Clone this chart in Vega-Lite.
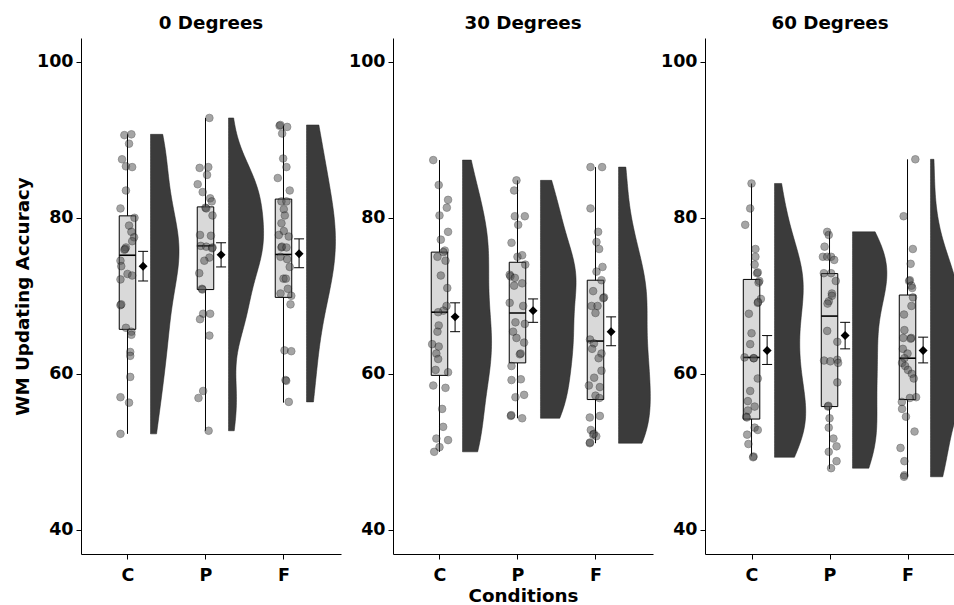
{
"$schema": "https://vega.github.io/schema/vega-lite/v6.json",
"padding": {"left": 13, "top": 13, "right": 0, "bottom": 0},
"datasets": {
"summ": [
{"panel":"0","cond":"C","lo":52.3,"q1":65.7,"med":75.2,"q3":80.25,"hi":90.7,"mean":73.8,"selo":71.9,"sehi":75.7},
{"panel":"0","cond":"P","lo":52.7,"q1":70.8,"med":76.4,"q3":81.4,"hi":92.8,"mean":75.25,"selo":73.7,"sehi":76.8},
{"panel":"0","cond":"F","lo":56.3,"q1":69.8,"med":75.3,"q3":82.4,"hi":91.8,"mean":75.4,"selo":73.6,"sehi":77.3},
{"panel":"30","cond":"C","lo":50.0,"q1":59.8,"med":67.9,"q3":75.6,"hi":87.4,"mean":67.3,"selo":65.4,"sehi":69.1},
{"panel":"30","cond":"P","lo":54.3,"q1":61.4,"med":67.8,"q3":74.3,"hi":84.8,"mean":68.1,"selo":66.6,"sehi":69.6},
{"panel":"30","cond":"F","lo":51.1,"q1":56.7,"med":64.2,"q3":72.0,"hi":86.5,"mean":65.4,"selo":63.6,"sehi":67.3},
{"panel":"60","cond":"C","lo":49.4,"q1":54.2,"med":62.1,"q3":72.1,"hi":84.4,"mean":63.0,"selo":61.2,"sehi":64.9},
{"panel":"60","cond":"P","lo":47.8,"q1":55.8,"med":67.4,"q3":72.85,"hi":78.2,"mean":64.9,"selo":63.2,"sehi":66.6},
{"panel":"60","cond":"F","lo":46.8,"q1":56.7,"med":62.0,"q3":70.1,"hi":87.5,"mean":63.0,"selo":61.4,"sehi":64.7}
],
"pts": [
{"panel":"0","cond":"C","acc":90.6,"jit":-0.04},{"panel":"0","cond":"C","acc":90.7,"jit":0.05},{"panel":"0","cond":"C","acc":89.5,"jit":0.02},{"panel":"0","cond":"C","acc":87.5,"jit":-0.07},{"panel":"0","cond":"C","acc":86.6,"jit":-0.02},{"panel":"0","cond":"C","acc":86.5,"jit":0.06},{"panel":"0","cond":"C","acc":83.5,"jit":-0.02},{"panel":"0","cond":"C","acc":81.2,"jit":-0.09},{"panel":"0","cond":"C","acc":80.0,"jit":0.09},{"panel":"0","cond":"C","acc":79.0,"jit":0.02},{"panel":"0","cond":"C","acc":78.2,"jit":0.05},{"panel":"0","cond":"C","acc":77.5,"jit":0.085},{"panel":"0","cond":"C","acc":77.0,"jit":0.06},{"panel":"0","cond":"C","acc":76.2,"jit":-0.02},{"panel":"0","cond":"C","acc":75.9,"jit":-0.04},{"panel":"0","cond":"C","acc":76.0,"jit":-0.03},{"panel":"0","cond":"C","acc":74.5,"jit":-0.09},{"panel":"0","cond":"C","acc":73.8,"jit":-0.08},{"panel":"0","cond":"C","acc":72.8,"jit":0.0},{"panel":"0","cond":"C","acc":72.6,"jit":0.06},{"panel":"0","cond":"C","acc":72.1,"jit":-0.09},{"panel":"0","cond":"C","acc":68.8,"jit":-0.09},{"panel":"0","cond":"C","acc":68.9,"jit":-0.08},{"panel":"0","cond":"C","acc":65.9,"jit":-0.02},{"panel":"0","cond":"C","acc":65.4,"jit":0.05},{"panel":"0","cond":"C","acc":65.0,"jit":0.05},{"panel":"0","cond":"C","acc":62.8,"jit":0.035},{"panel":"0","cond":"C","acc":62.3,"jit":0.035},{"panel":"0","cond":"C","acc":59.6,"jit":0.035},{"panel":"0","cond":"C","acc":57.0,"jit":-0.09},{"panel":"0","cond":"C","acc":56.3,"jit":0.02},{"panel":"0","cond":"C","acc":52.3,"jit":-0.09},
{"panel":"0","cond":"P","acc":92.8,"jit":0.05},{"panel":"0","cond":"P","acc":86.4,"jit":-0.075},{"panel":"0","cond":"P","acc":86.5,"jit":0.036},{"panel":"0","cond":"P","acc":85.5,"jit":0.02},{"panel":"0","cond":"P","acc":84.3,"jit":-0.1},{"panel":"0","cond":"P","acc":83.3,"jit":-0.036},{"panel":"0","cond":"P","acc":82.5,"jit":0.06},{"panel":"0","cond":"P","acc":82.1,"jit":0.08},{"panel":"0","cond":"P","acc":81.3,"jit":0.0},{"panel":"0","cond":"P","acc":81.2,"jit":0.01},{"panel":"0","cond":"P","acc":80.3,"jit":0.09},{"panel":"0","cond":"P","acc":77.8,"jit":-0.07},{"panel":"0","cond":"P","acc":77.7,"jit":0.07},{"panel":"0","cond":"P","acc":76.4,"jit":-0.06},{"panel":"0","cond":"P","acc":76.3,"jit":0.01},{"panel":"0","cond":"P","acc":76.2,"jit":0.09},{"panel":"0","cond":"P","acc":76.1,"jit":0.085},{"panel":"0","cond":"P","acc":74.9,"jit":0.05},{"panel":"0","cond":"P","acc":74.5,"jit":-0.015},{"panel":"0","cond":"P","acc":72.9,"jit":-0.08},{"panel":"0","cond":"P","acc":70.9,"jit":-0.045},{"panel":"0","cond":"P","acc":70.8,"jit":-0.04},{"panel":"0","cond":"P","acc":67.7,"jit":-0.03},{"panel":"0","cond":"P","acc":67.7,"jit":0.06},{"panel":"0","cond":"P","acc":67.0,"jit":-0.07},{"panel":"0","cond":"P","acc":64.9,"jit":0.05},{"panel":"0","cond":"P","acc":57.8,"jit":-0.03},{"panel":"0","cond":"P","acc":56.9,"jit":-0.09},{"panel":"0","cond":"P","acc":52.7,"jit":0.04},
{"panel":"0","cond":"F","acc":91.8,"jit":-0.05},{"panel":"0","cond":"F","acc":91.9,"jit":-0.04},{"panel":"0","cond":"F","acc":91.65,"jit":0.047},{"panel":"0","cond":"F","acc":90.8,"jit":-0.017},{"panel":"0","cond":"F","acc":87.6,"jit":-0.004},{"panel":"0","cond":"F","acc":86.5,"jit":0.038},{"panel":"0","cond":"F","acc":85.1,"jit":-0.073},{"panel":"0","cond":"F","acc":83.5,"jit":0.08},{"panel":"0","cond":"F","acc":82.1,"jit":-0.026},{"panel":"0","cond":"F","acc":82.1,"jit":0.038},{"panel":"0","cond":"F","acc":81.1,"jit":0.004},{"panel":"0","cond":"F","acc":80.3,"jit":0.017},{"panel":"0","cond":"F","acc":79.3,"jit":-0.026},{"panel":"0","cond":"F","acc":78.3,"jit":0.004},{"panel":"0","cond":"F","acc":77.8,"jit":-0.06},{"panel":"0","cond":"F","acc":77.6,"jit":0.068},{"panel":"0","cond":"F","acc":76.2,"jit":-0.026},{"panel":"0","cond":"F","acc":76.3,"jit":-0.02},{"panel":"0","cond":"F","acc":76.2,"jit":0.038},{"panel":"0","cond":"F","acc":75.0,"jit":-0.038},{"panel":"0","cond":"F","acc":74.7,"jit":0.047},{"panel":"0","cond":"F","acc":73.7,"jit":0.08},{"panel":"0","cond":"F","acc":72.2,"jit":0.0},{"panel":"0","cond":"F","acc":72.2,"jit":0.03},{"panel":"0","cond":"F","acc":70.9,"jit":0.056},{"panel":"0","cond":"F","acc":70.3,"jit":-0.038},{"panel":"0","cond":"F","acc":70.0,"jit":0.1},{"panel":"0","cond":"F","acc":68.9,"jit":0.09},{"panel":"0","cond":"F","acc":63.0,"jit":0.013},{"panel":"0","cond":"F","acc":62.9,"jit":0.1},{"panel":"0","cond":"F","acc":59.2,"jit":0.026},{"panel":"0","cond":"F","acc":59.1,"jit":0.035},{"panel":"0","cond":"F","acc":56.4,"jit":0.068},
{"panel":"30","cond":"C","acc":87.4,"jit":-0.08},{"panel":"30","cond":"C","acc":84.2,"jit":-0.01},{"panel":"30","cond":"C","acc":82.3,"jit":0.11},{"panel":"30","cond":"C","acc":81.3,"jit":0.094},{"panel":"30","cond":"C","acc":80.3,"jit":0.0},{"panel":"30","cond":"C","acc":78.2,"jit":0.11},{"panel":"30","cond":"C","acc":77.2,"jit":0.017},{"panel":"30","cond":"C","acc":75.8,"jit":0.068},{"panel":"30","cond":"C","acc":75.6,"jit":0.05},{"panel":"30","cond":"C","acc":75.0,"jit":-0.026},{"panel":"30","cond":"C","acc":74.5,"jit":0.077},{"panel":"30","cond":"C","acc":72.6,"jit":0.017},{"panel":"30","cond":"C","acc":71.0,"jit":0.1},{"panel":"30","cond":"C","acc":68.7,"jit":0.09},{"panel":"30","cond":"C","acc":68.1,"jit":0.05},{"panel":"30","cond":"C","acc":67.9,"jit":-0.017},{"panel":"30","cond":"C","acc":66.2,"jit":-0.01},{"panel":"30","cond":"C","acc":65.4,"jit":-0.026},{"panel":"30","cond":"C","acc":63.8,"jit":-0.094},{"panel":"30","cond":"C","acc":63.5,"jit":-0.01},{"panel":"30","cond":"C","acc":62.6,"jit":-0.04},{"panel":"30","cond":"C","acc":61.9,"jit":-0.017},{"panel":"30","cond":"C","acc":60.5,"jit":-0.05},{"panel":"30","cond":"C","acc":60.2,"jit":0.11},{"panel":"30","cond":"C","acc":58.5,"jit":-0.08},{"panel":"30","cond":"C","acc":58.2,"jit":0.077},{"panel":"30","cond":"C","acc":55.5,"jit":0.034},{"panel":"30","cond":"C","acc":53.2,"jit":0.047},{"panel":"30","cond":"C","acc":51.7,"jit":-0.04},{"panel":"30","cond":"C","acc":51.5,"jit":0.11},{"panel":"30","cond":"C","acc":50.6,"jit":0.0},{"panel":"30","cond":"C","acc":50.0,"jit":-0.068},
{"panel":"30","cond":"P","acc":84.8,"jit":-0.013},{"panel":"30","cond":"P","acc":83.5,"jit":-0.043},{"panel":"30","cond":"P","acc":80.2,"jit":-0.034},{"panel":"30","cond":"P","acc":80.2,"jit":0.094},{"panel":"30","cond":"P","acc":79.1,"jit":0.009},{"panel":"30","cond":"P","acc":76.8,"jit":-0.077},{"panel":"30","cond":"P","acc":75.0,"jit":0.0},{"panel":"30","cond":"P","acc":75.2,"jit":0.06},{"panel":"30","cond":"P","acc":74.0,"jit":0.1},{"panel":"30","cond":"P","acc":72.7,"jit":-0.1},{"panel":"30","cond":"P","acc":72.5,"jit":-0.09},{"panel":"30","cond":"P","acc":72.3,"jit":-0.034},{"panel":"30","cond":"P","acc":71.6,"jit":0.06},{"panel":"30","cond":"P","acc":71.3,"jit":-0.043},{"panel":"30","cond":"P","acc":69.1,"jit":-0.1},{"panel":"30","cond":"P","acc":68.7,"jit":0.073},{"panel":"30","cond":"P","acc":66.6,"jit":-0.026},{"panel":"30","cond":"P","acc":66.4,"jit":0.094},{"panel":"30","cond":"P","acc":65.4,"jit":-0.056},{"panel":"30","cond":"P","acc":64.6,"jit":-0.013},{"panel":"30","cond":"P","acc":64.0,"jit":0.085},{"panel":"30","cond":"P","acc":62.5,"jit":0.03},{"panel":"30","cond":"P","acc":62.6,"jit":0.04},{"panel":"30","cond":"P","acc":61.0,"jit":-0.077},{"panel":"30","cond":"P","acc":59.3,"jit":0.043},{"panel":"30","cond":"P","acc":59.2,"jit":-0.077},{"panel":"30","cond":"P","acc":57.0,"jit":-0.026},{"panel":"30","cond":"P","acc":57.3,"jit":0.085},{"panel":"30","cond":"P","acc":54.6,"jit":-0.085},{"panel":"30","cond":"P","acc":54.7,"jit":-0.08},{"panel":"30","cond":"P","acc":54.3,"jit":0.06},
{"panel":"30","cond":"F","acc":86.5,"jit":-0.064},{"panel":"30","cond":"F","acc":86.5,"jit":0.085},{"panel":"30","cond":"F","acc":81.2,"jit":-0.064},{"panel":"30","cond":"F","acc":78.2,"jit":0.034},{"panel":"30","cond":"F","acc":76.9,"jit":0.013},{"panel":"30","cond":"F","acc":76.0,"jit":0.047},{"panel":"30","cond":"F","acc":73.7,"jit":0.09},{"panel":"30","cond":"F","acc":73.1,"jit":0.013},{"panel":"30","cond":"F","acc":72.0,"jit":0.077},{"panel":"30","cond":"F","acc":70.6,"jit":-0.03},{"panel":"30","cond":"F","acc":69.8,"jit":0.11},{"panel":"30","cond":"F","acc":69.7,"jit":0.1},{"panel":"30","cond":"F","acc":68.7,"jit":-0.05},{"panel":"30","cond":"F","acc":68.7,"jit":0.026},{"panel":"30","cond":"F","acc":67.8,"jit":0.0},{"panel":"30","cond":"F","acc":64.4,"jit":-0.07},{"panel":"30","cond":"F","acc":63.9,"jit":-0.02},{"panel":"30","cond":"F","acc":63.2,"jit":-0.043},{"panel":"30","cond":"F","acc":62.6,"jit":0.077},{"panel":"30","cond":"F","acc":62.0,"jit":0.04},{"panel":"30","cond":"F","acc":60.4,"jit":0.077},{"panel":"30","cond":"F","acc":59.5,"jit":-0.017},{"panel":"30","cond":"F","acc":58.5,"jit":-0.085},{"panel":"30","cond":"F","acc":58.3,"jit":0.056},{"panel":"30","cond":"F","acc":57.2,"jit":0.0},{"panel":"30","cond":"F","acc":56.9,"jit":0.05},{"panel":"30","cond":"F","acc":54.4,"jit":-0.073},{"panel":"30","cond":"F","acc":54.6,"jit":0.056},{"panel":"30","cond":"F","acc":52.8,"jit":-0.06},{"panel":"30","cond":"F","acc":52.2,"jit":-0.03},{"panel":"30","cond":"F","acc":52.3,"jit":-0.02},{"panel":"30","cond":"F","acc":52.0,"jit":0.01},{"panel":"30","cond":"F","acc":51.1,"jit":-0.073},{"panel":"30","cond":"F","acc":51.2,"jit":-0.07},
{"panel":"60","cond":"C","acc":84.4,"jit":0.0},{"panel":"60","cond":"C","acc":81.2,"jit":-0.017},{"panel":"60","cond":"C","acc":79.1,"jit":-0.081},{"panel":"60","cond":"C","acc":76.0,"jit":0.05},{"panel":"60","cond":"C","acc":75.0,"jit":0.05},{"panel":"60","cond":"C","acc":74.0,"jit":0.04},{"panel":"60","cond":"C","acc":72.9,"jit":0.07},{"panel":"60","cond":"C","acc":73.0,"jit":0.08},{"panel":"60","cond":"C","acc":71.9,"jit":0.1},{"panel":"60","cond":"C","acc":71.7,"jit":0.09},{"panel":"60","cond":"C","acc":69.6,"jit":0.12},{"panel":"60","cond":"C","acc":69.1,"jit":0.08},{"panel":"60","cond":"C","acc":69.2,"jit":0.085},{"panel":"60","cond":"C","acc":67.7,"jit":-0.034},{"panel":"60","cond":"C","acc":65.2,"jit":0.0},{"panel":"60","cond":"C","acc":63.8,"jit":-0.017},{"panel":"60","cond":"C","acc":62.1,"jit":-0.09},{"panel":"60","cond":"C","acc":62.0,"jit":0.026},{"panel":"60","cond":"C","acc":62.0,"jit":0.03},{"panel":"60","cond":"C","acc":59.4,"jit":0.08},{"panel":"60","cond":"C","acc":57.8,"jit":-0.017},{"panel":"60","cond":"C","acc":56.5,"jit":-0.047},{"panel":"60","cond":"C","acc":55.8,"jit":0.04},{"panel":"60","cond":"C","acc":55.3,"jit":-0.047},{"panel":"60","cond":"C","acc":54.5,"jit":-0.068},{"panel":"60","cond":"C","acc":54.4,"jit":-0.06},{"panel":"60","cond":"C","acc":53.1,"jit":0.04},{"panel":"60","cond":"C","acc":52.8,"jit":0.08},{"panel":"60","cond":"C","acc":52.2,"jit":-0.056},{"panel":"60","cond":"C","acc":51.0,"jit":-0.04},{"panel":"60","cond":"C","acc":49.4,"jit":0.026},{"panel":"60","cond":"C","acc":49.3,"jit":0.02},
{"panel":"60","cond":"P","acc":78.2,"jit":-0.03},{"panel":"60","cond":"P","acc":77.8,"jit":-0.01},{"panel":"60","cond":"P","acc":76.3,"jit":-0.064},{"panel":"60","cond":"P","acc":75.0,"jit":-0.085},{"panel":"60","cond":"P","acc":75.0,"jit":-0.03},{"panel":"60","cond":"P","acc":75.0,"jit":0.02},{"panel":"60","cond":"P","acc":74.6,"jit":0.06},{"panel":"60","cond":"P","acc":72.9,"jit":-0.073},{"panel":"60","cond":"P","acc":72.9,"jit":0.02},{"panel":"60","cond":"P","acc":71.9,"jit":0.08},{"panel":"60","cond":"P","acc":70.3,"jit":0.03},{"panel":"60","cond":"P","acc":70.0,"jit":0.03},{"panel":"60","cond":"P","acc":69.3,"jit":-0.01},{"panel":"60","cond":"P","acc":69.0,"jit":-0.025},{"panel":"60","cond":"P","acc":65.5,"jit":-0.03},{"panel":"60","cond":"P","acc":64.1,"jit":0.1},{"panel":"60","cond":"P","acc":61.7,"jit":-0.07},{"panel":"60","cond":"P","acc":61.6,"jit":0.01},{"panel":"60","cond":"P","acc":61.8,"jit":0.1},{"panel":"60","cond":"P","acc":61.4,"jit":0.11},{"panel":"60","cond":"P","acc":58.9,"jit":0.1},{"panel":"60","cond":"P","acc":55.8,"jit":-0.02},{"panel":"60","cond":"P","acc":55.9,"jit":-0.015},{"panel":"60","cond":"P","acc":54.3,"jit":0.0},{"panel":"60","cond":"P","acc":53.1,"jit":-0.01},{"panel":"60","cond":"P","acc":51.7,"jit":0.05},{"panel":"60","cond":"P","acc":50.7,"jit":0.09},{"panel":"60","cond":"P","acc":50.0,"jit":-0.01},{"panel":"60","cond":"P","acc":48.8,"jit":0.09},{"panel":"60","cond":"P","acc":47.9,"jit":0.02},
{"panel":"60","cond":"F","acc":87.5,"jit":0.1},{"panel":"60","cond":"F","acc":80.2,"jit":-0.05},{"panel":"60","cond":"F","acc":76.0,"jit":0.068},{"panel":"60","cond":"F","acc":74.1,"jit":0.04},{"panel":"60","cond":"F","acc":71.9,"jit":0.02},{"panel":"60","cond":"F","acc":72.0,"jit":0.03},{"panel":"60","cond":"F","acc":71.3,"jit":0.05},{"panel":"60","cond":"F","acc":71.0,"jit":0.06},{"panel":"60","cond":"F","acc":69.8,"jit":0.07},{"panel":"60","cond":"F","acc":68.7,"jit":0.05},{"panel":"60","cond":"F","acc":67.6,"jit":-0.045},{"panel":"60","cond":"F","acc":65.6,"jit":-0.04},{"panel":"60","cond":"F","acc":64.6,"jit":0.047},{"panel":"60","cond":"F","acc":64.5,"jit":0.04},{"panel":"60","cond":"F","acc":64.6,"jit":-0.055},{"panel":"60","cond":"F","acc":63.2,"jit":-0.06},{"panel":"60","cond":"F","acc":62.6,"jit":0.0},{"panel":"60","cond":"F","acc":62.0,"jit":-0.04},{"panel":"60","cond":"F","acc":61.4,"jit":-0.07},{"panel":"60","cond":"F","acc":61.0,"jit":-0.03},{"panel":"60","cond":"F","acc":60.5,"jit":0.005},{"panel":"60","cond":"F","acc":60.0,"jit":0.055},{"panel":"60","cond":"F","acc":59.4,"jit":0.08},{"panel":"60","cond":"F","acc":57.0,"jit":0.11},{"panel":"60","cond":"F","acc":56.9,"jit":0.03},{"panel":"60","cond":"F","acc":56.4,"jit":-0.073},{"panel":"60","cond":"F","acc":55.5,"jit":-0.07},{"panel":"60","cond":"F","acc":54.5,"jit":-0.02},{"panel":"60","cond":"F","acc":52.6,"jit":0.09},{"panel":"60","cond":"F","acc":50.5,"jit":-0.09},{"panel":"60","cond":"F","acc":48.8,"jit":-0.04},{"panel":"60","cond":"F","acc":47.0,"jit":-0.04},{"panel":"60","cond":"F","acc":46.8,"jit":-0.045}
]
},
"spacing": 52,
"bounds": "flush",
"hconcat": [
{
"width": 260, "height": 516,
"title": {"text": "0 Degrees"},
"layer": [
{"data": {"name": "summ"}, "transform": [{"filter": "datum.panel === '0'"}],
 "mark": {"type": "rule", "color": "#000", "strokeWidth": 1},
 "encoding": {
  "x": {"field": "cond", "type": "nominal", "scale": {"type": "point", "domain": ["C","P","F"], "padding": 0.6667, "align": 0.447}, "axis": {"title": null, "labelAngle": 0}},
  "y": {"field": "lo", "type": "quantitative", "scale": {"domain": [36.9, 103.05], "nice": false, "zero": false}, "axis": {"title": "WM Updating Accuracy", "values": [40, 60, 80, 100]}},
  "y2": {"field": "hi"}}},
{"data": {"name": "summ"}, "transform": [{"filter": "datum.panel === '0'"}],
 "mark": {"type": "bar", "width": 16.5, "fill": "#d9d9d9", "stroke": "#000", "strokeWidth": 1},
 "encoding": {
  "x": {"field": "cond", "type": "nominal", "scale": {"type": "point", "domain": ["C","P","F"], "padding": 0.6667, "align": 0.447}, "axis": null},
  "y": {"field": "q1", "type": "quantitative", "scale": {"domain": [36.9, 103.05], "nice": false, "zero": false}},
  "y2": {"field": "q3"}}},
{"data": {"name": "summ"}, "transform": [{"filter": "datum.panel === '0'"}],
 "mark": {"type": "tick", "orient": "horizontal", "size": 16.5, "thickness": 1.6, "color": "#000", "opacity": 1},
 "encoding": {
  "x": {"field": "cond", "type": "nominal", "scale": {"type": "point", "domain": ["C","P","F"], "padding": 0.6667, "align": 0.447}, "axis": null},
  "y": {"field": "med", "type": "quantitative", "scale": {"domain": [36.9, 103.05], "nice": false, "zero": false}}}},
{"data": {"name": "pts"}, "transform": [{"filter": "datum.panel === '0'"}],
 "mark": {"type": "circle", "size": 58, "color": "#4d4d4d", "opacity": 0.5, "stroke": "#000", "strokeWidth": 0.7},
 "encoding": {
  "x": {"field": "cond", "type": "nominal", "scale": {"type": "point", "domain": ["C","P","F"], "padding": 0.6667, "align": 0.447}, "axis": null},
  "xOffset": {"field": "jit", "type": "quantitative", "scale": {"domain": [-0.5, 0.5], "range": [-39, 39]}},
  "y": {"field": "acc", "type": "quantitative", "scale": {"domain": [36.9, 103.05], "nice": false, "zero": false}}}},
{"data": {"name": "summ"}, "transform": [{"filter": "datum.panel === '0'"}],
 "mark": {"type": "rule", "color": "#000", "strokeWidth": 1, "xOffset": 15.6},
 "encoding": {
  "x": {"field": "cond", "type": "nominal", "scale": {"type": "point", "domain": ["C","P","F"], "padding": 0.6667, "align": 0.447}, "axis": null},
  "y": {"field": "selo", "type": "quantitative", "scale": {"domain": [36.9, 103.05], "nice": false, "zero": false}},
  "y2": {"field": "sehi"}}},
{"data": {"name": "summ"}, "transform": [{"filter": "datum.panel === '0'"}],
 "mark": {"type": "tick", "orient": "horizontal", "size": 10, "thickness": 1, "color": "#000", "opacity": 1, "xOffset": 15.6},
 "encoding": {
  "x": {"field": "cond", "type": "nominal", "scale": {"type": "point", "domain": ["C","P","F"], "padding": 0.6667, "align": 0.447}, "axis": null},
  "y": {"field": "selo", "type": "quantitative", "scale": {"domain": [36.9, 103.05], "nice": false, "zero": false}}}},
{"data": {"name": "summ"}, "transform": [{"filter": "datum.panel === '0'"}],
 "mark": {"type": "tick", "orient": "horizontal", "size": 10, "thickness": 1, "color": "#000", "opacity": 1, "xOffset": 15.6},
 "encoding": {
  "x": {"field": "cond", "type": "nominal", "scale": {"type": "point", "domain": ["C","P","F"], "padding": 0.6667, "align": 0.447}, "axis": null},
  "y": {"field": "sehi", "type": "quantitative", "scale": {"domain": [36.9, 103.05], "nice": false, "zero": false}}}},
{"data": {"name": "summ"}, "transform": [{"filter": "datum.panel === '0'"}],
 "mark": {"type": "point", "shape": "diamond", "filled": true, "size": 80, "color": "#000", "opacity": 1, "xOffset": 15.6},
 "encoding": {
  "x": {"field": "cond", "type": "nominal", "scale": {"type": "point", "domain": ["C","P","F"], "padding": 0.6667, "align": 0.447}, "axis": null},
  "y": {"field": "mean", "type": "quantitative", "scale": {"domain": [36.9, 103.05], "nice": false, "zero": false}}}},
{"data": {"name": "pts"}, "transform": [{"filter": "datum.panel === '0' && datum.cond === 'C'"}, {"density": "acc", "bandwidth": 4.7, "steps": 100, "as": ["value", "density"]}],
 "mark": {"type": "area", "orient": "horizontal", "color": "#3b3b3b", "stroke": "#222", "strokeWidth": 0.5, "clip": true},
 "encoding": {
  "x": {"field": "density", "type": "quantitative", "scale": {"domain": [-0.086875, 0.238125], "nice": false, "zero": false}, "axis": null},
  "x2": {"datum": 0},
  "y": {"field": "value", "type": "quantitative", "scale": {"domain": [36.9, 103.05], "nice": false, "zero": false}}}},
{"data": {"name": "pts"}, "transform": [{"filter": "datum.panel === '0' && datum.cond === 'P'"}, {"density": "acc", "bandwidth": 3.6, "steps": 100, "as": ["value", "density"]}],
 "mark": {"type": "area", "orient": "horizontal", "color": "#3b3b3b", "stroke": "#222", "strokeWidth": 0.5, "clip": true},
 "encoding": {
  "x": {"field": "density", "type": "quantitative", "scale": {"domain": [-0.184375, 0.140625], "nice": false, "zero": false}, "axis": null},
  "x2": {"datum": 0},
  "y": {"field": "value", "type": "quantitative", "scale": {"domain": [36.9, 103.05], "nice": false, "zero": false}}}},
{"data": {"name": "pts"}, "transform": [{"filter": "datum.panel === '0' && datum.cond === 'F'"}, {"density": "acc", "bandwidth": 6.0, "steps": 100, "as": ["value", "density"]}],
 "mark": {"type": "area", "orient": "horizontal", "color": "#3b3b3b", "stroke": "#222", "strokeWidth": 0.5, "clip": true},
 "encoding": {
  "x": {"field": "density", "type": "quantitative", "scale": {"domain": [-0.281875, 0.043125], "nice": false, "zero": false}, "axis": null},
  "x2": {"datum": 0},
  "y": {"field": "value", "type": "quantitative", "scale": {"domain": [36.9, 103.05], "nice": false, "zero": false}}}}
],
"resolve": {"scale": {"x": "independent"}}
},
{
"width": 260, "height": 516,
"title": {"text": "30 Degrees"},
"layer": [
{"data": {"name": "summ"}, "transform": [{"filter": "datum.panel === '30'"}],
 "mark": {"type": "rule", "color": "#000", "strokeWidth": 1},
 "encoding": {
  "x": {"field": "cond", "type": "nominal", "scale": {"type": "point", "domain": ["C","P","F"], "padding": 0.6667, "align": 0.447}, "axis": {"title": "Conditions", "labelAngle": 0}},
  "y": {"field": "lo", "type": "quantitative", "scale": {"domain": [36.9, 103.05], "nice": false, "zero": false}, "axis": {"title": null, "values": [40, 60, 80, 100]}},
  "y2": {"field": "hi"}}},
{"data": {"name": "summ"}, "transform": [{"filter": "datum.panel === '30'"}],
 "mark": {"type": "bar", "width": 16.5, "fill": "#d9d9d9", "stroke": "#000", "strokeWidth": 1},
 "encoding": {
  "x": {"field": "cond", "type": "nominal", "scale": {"type": "point", "domain": ["C","P","F"], "padding": 0.6667, "align": 0.447}, "axis": null},
  "y": {"field": "q1", "type": "quantitative", "scale": {"domain": [36.9, 103.05], "nice": false, "zero": false}},
  "y2": {"field": "q3"}}},
{"data": {"name": "summ"}, "transform": [{"filter": "datum.panel === '30'"}],
 "mark": {"type": "tick", "orient": "horizontal", "size": 16.5, "thickness": 1.6, "color": "#000", "opacity": 1},
 "encoding": {
  "x": {"field": "cond", "type": "nominal", "scale": {"type": "point", "domain": ["C","P","F"], "padding": 0.6667, "align": 0.447}, "axis": null},
  "y": {"field": "med", "type": "quantitative", "scale": {"domain": [36.9, 103.05], "nice": false, "zero": false}}}},
{"data": {"name": "pts"}, "transform": [{"filter": "datum.panel === '30'"}],
 "mark": {"type": "circle", "size": 58, "color": "#4d4d4d", "opacity": 0.5, "stroke": "#000", "strokeWidth": 0.7},
 "encoding": {
  "x": {"field": "cond", "type": "nominal", "scale": {"type": "point", "domain": ["C","P","F"], "padding": 0.6667, "align": 0.447}, "axis": null},
  "xOffset": {"field": "jit", "type": "quantitative", "scale": {"domain": [-0.5, 0.5], "range": [-39, 39]}},
  "y": {"field": "acc", "type": "quantitative", "scale": {"domain": [36.9, 103.05], "nice": false, "zero": false}}}},
{"data": {"name": "summ"}, "transform": [{"filter": "datum.panel === '30'"}],
 "mark": {"type": "rule", "color": "#000", "strokeWidth": 1, "xOffset": 15.6},
 "encoding": {
  "x": {"field": "cond", "type": "nominal", "scale": {"type": "point", "domain": ["C","P","F"], "padding": 0.6667, "align": 0.447}, "axis": null},
  "y": {"field": "selo", "type": "quantitative", "scale": {"domain": [36.9, 103.05], "nice": false, "zero": false}},
  "y2": {"field": "sehi"}}},
{"data": {"name": "summ"}, "transform": [{"filter": "datum.panel === '30'"}],
 "mark": {"type": "tick", "orient": "horizontal", "size": 10, "thickness": 1, "color": "#000", "opacity": 1, "xOffset": 15.6},
 "encoding": {
  "x": {"field": "cond", "type": "nominal", "scale": {"type": "point", "domain": ["C","P","F"], "padding": 0.6667, "align": 0.447}, "axis": null},
  "y": {"field": "selo", "type": "quantitative", "scale": {"domain": [36.9, 103.05], "nice": false, "zero": false}}}},
{"data": {"name": "summ"}, "transform": [{"filter": "datum.panel === '30'"}],
 "mark": {"type": "tick", "orient": "horizontal", "size": 10, "thickness": 1, "color": "#000", "opacity": 1, "xOffset": 15.6},
 "encoding": {
  "x": {"field": "cond", "type": "nominal", "scale": {"type": "point", "domain": ["C","P","F"], "padding": 0.6667, "align": 0.447}, "axis": null},
  "y": {"field": "sehi", "type": "quantitative", "scale": {"domain": [36.9, 103.05], "nice": false, "zero": false}}}},
{"data": {"name": "summ"}, "transform": [{"filter": "datum.panel === '30'"}],
 "mark": {"type": "point", "shape": "diamond", "filled": true, "size": 80, "color": "#000", "opacity": 1, "xOffset": 15.6},
 "encoding": {
  "x": {"field": "cond", "type": "nominal", "scale": {"type": "point", "domain": ["C","P","F"], "padding": 0.6667, "align": 0.447}, "axis": null},
  "y": {"field": "mean", "type": "quantitative", "scale": {"domain": [36.9, 103.05], "nice": false, "zero": false}}}},
{"data": {"name": "pts"}, "transform": [{"filter": "datum.panel === '30' && datum.cond === 'C'"}, {"density": "acc", "bandwidth": 4.5, "steps": 100, "as": ["value", "density"]}],
 "mark": {"type": "area", "orient": "horizontal", "color": "#3b3b3b", "stroke": "#222", "strokeWidth": 0.5, "clip": true},
 "encoding": {
  "x": {"field": "density", "type": "quantitative", "scale": {"domain": [-0.0724, 0.1984], "nice": false, "zero": false}, "axis": null},
  "x2": {"datum": 0},
  "y": {"field": "value", "type": "quantitative", "scale": {"domain": [36.9, 103.05], "nice": false, "zero": false}}}},
{"data": {"name": "pts"}, "transform": [{"filter": "datum.panel === '30' && datum.cond === 'P'"}, {"density": "acc", "bandwidth": 3.6, "steps": 100, "as": ["value", "density"]}],
 "mark": {"type": "area", "orient": "horizontal", "color": "#3b3b3b", "stroke": "#222", "strokeWidth": 0.5, "clip": true},
 "encoding": {
  "x": {"field": "density", "type": "quantitative", "scale": {"domain": [-0.1536, 0.1172], "nice": false, "zero": false}, "axis": null},
  "x2": {"datum": 0},
  "y": {"field": "value", "type": "quantitative", "scale": {"domain": [36.9, 103.05], "nice": false, "zero": false}}}},
{"data": {"name": "pts"}, "transform": [{"filter": "datum.panel === '30' && datum.cond === 'F'"}, {"density": "acc", "bandwidth": 4.2, "steps": 100, "as": ["value", "density"]}],
 "mark": {"type": "area", "orient": "horizontal", "color": "#3b3b3b", "stroke": "#222", "strokeWidth": 0.5, "clip": true},
 "encoding": {
  "x": {"field": "density", "type": "quantitative", "scale": {"domain": [-0.2349, 0.0359], "nice": false, "zero": false}, "axis": null},
  "x2": {"datum": 0},
  "y": {"field": "value", "type": "quantitative", "scale": {"domain": [36.9, 103.05], "nice": false, "zero": false}}}}
],
"resolve": {"scale": {"x": "independent"}}
},
{
"width": 250, "height": 516,
"title": {"text": "60 Degrees"},
"layer": [
{"data": {"name": "summ"}, "transform": [{"filter": "datum.panel === '60'"}],
 "mark": {"type": "rule", "color": "#000", "strokeWidth": 1},
 "encoding": {
  "x": {"field": "cond", "type": "nominal", "scale": {"type": "point", "domain": ["C","P","F"], "padding": 0.6026, "align": 0.495}, "axis": {"title": null, "labelAngle": 0}},
  "y": {"field": "lo", "type": "quantitative", "scale": {"domain": [36.9, 103.05], "nice": false, "zero": false}, "axis": {"title": null, "values": [40, 60, 80, 100]}},
  "y2": {"field": "hi"}}},
{"data": {"name": "summ"}, "transform": [{"filter": "datum.panel === '60'"}],
 "mark": {"type": "bar", "width": 16.5, "fill": "#d9d9d9", "stroke": "#000", "strokeWidth": 1},
 "encoding": {
  "x": {"field": "cond", "type": "nominal", "scale": {"type": "point", "domain": ["C","P","F"], "padding": 0.6026, "align": 0.495}, "axis": null},
  "y": {"field": "q1", "type": "quantitative", "scale": {"domain": [36.9, 103.05], "nice": false, "zero": false}},
  "y2": {"field": "q3"}}},
{"data": {"name": "summ"}, "transform": [{"filter": "datum.panel === '60'"}],
 "mark": {"type": "tick", "orient": "horizontal", "size": 16.5, "thickness": 1.6, "color": "#000", "opacity": 1},
 "encoding": {
  "x": {"field": "cond", "type": "nominal", "scale": {"type": "point", "domain": ["C","P","F"], "padding": 0.6026, "align": 0.495}, "axis": null},
  "y": {"field": "med", "type": "quantitative", "scale": {"domain": [36.9, 103.05], "nice": false, "zero": false}}}},
{"data": {"name": "pts"}, "transform": [{"filter": "datum.panel === '60'"}],
 "mark": {"type": "circle", "size": 58, "color": "#4d4d4d", "opacity": 0.5, "stroke": "#000", "strokeWidth": 0.7},
 "encoding": {
  "x": {"field": "cond", "type": "nominal", "scale": {"type": "point", "domain": ["C","P","F"], "padding": 0.6026, "align": 0.495}, "axis": null},
  "xOffset": {"field": "jit", "type": "quantitative", "scale": {"domain": [-0.5, 0.5], "range": [-39, 39]}},
  "y": {"field": "acc", "type": "quantitative", "scale": {"domain": [36.9, 103.05], "nice": false, "zero": false}}}},
{"data": {"name": "summ"}, "transform": [{"filter": "datum.panel === '60'"}],
 "mark": {"type": "rule", "color": "#000", "strokeWidth": 1, "xOffset": 15.6},
 "encoding": {
  "x": {"field": "cond", "type": "nominal", "scale": {"type": "point", "domain": ["C","P","F"], "padding": 0.6026, "align": 0.495}, "axis": null},
  "y": {"field": "selo", "type": "quantitative", "scale": {"domain": [36.9, 103.05], "nice": false, "zero": false}},
  "y2": {"field": "sehi"}}},
{"data": {"name": "summ"}, "transform": [{"filter": "datum.panel === '60'"}],
 "mark": {"type": "tick", "orient": "horizontal", "size": 10, "thickness": 1, "color": "#000", "opacity": 1, "xOffset": 15.6},
 "encoding": {
  "x": {"field": "cond", "type": "nominal", "scale": {"type": "point", "domain": ["C","P","F"], "padding": 0.6026, "align": 0.495}, "axis": null},
  "y": {"field": "selo", "type": "quantitative", "scale": {"domain": [36.9, 103.05], "nice": false, "zero": false}}}},
{"data": {"name": "summ"}, "transform": [{"filter": "datum.panel === '60'"}],
 "mark": {"type": "tick", "orient": "horizontal", "size": 10, "thickness": 1, "color": "#000", "opacity": 1, "xOffset": 15.6},
 "encoding": {
  "x": {"field": "cond", "type": "nominal", "scale": {"type": "point", "domain": ["C","P","F"], "padding": 0.6026, "align": 0.495}, "axis": null},
  "y": {"field": "sehi", "type": "quantitative", "scale": {"domain": [36.9, 103.05], "nice": false, "zero": false}}}},
{"data": {"name": "summ"}, "transform": [{"filter": "datum.panel === '60'"}],
 "mark": {"type": "point", "shape": "diamond", "filled": true, "size": 80, "color": "#000", "opacity": 1, "xOffset": 15.6},
 "encoding": {
  "x": {"field": "cond", "type": "nominal", "scale": {"type": "point", "domain": ["C","P","F"], "padding": 0.6026, "align": 0.495}, "axis": null},
  "y": {"field": "mean", "type": "quantitative", "scale": {"domain": [36.9, 103.05], "nice": false, "zero": false}}}},
{"data": {"name": "pts"}, "transform": [{"filter": "datum.panel === '60' && datum.cond === 'C'"}, {"density": "acc", "bandwidth": 4.3, "steps": 100, "as": ["value", "density"]}],
 "mark": {"type": "area", "orient": "horizontal", "color": "#3b3b3b", "stroke": "#222", "strokeWidth": 0.5, "clip": true},
 "encoding": {
  "x": {"field": "density", "type": "quantitative", "scale": {"domain": [-0.07354, 0.19101], "nice": false, "zero": false}, "axis": null},
  "x2": {"datum": 0},
  "y": {"field": "value", "type": "quantitative", "scale": {"domain": [36.9, 103.05], "nice": false, "zero": false}}}},
{"data": {"name": "pts"}, "transform": [{"filter": "datum.panel === '60' && datum.cond === 'P'"}, {"density": "acc", "bandwidth": 4.3, "steps": 100, "as": ["value", "density"]}],
 "mark": {"type": "area", "orient": "horizontal", "color": "#3b3b3b", "stroke": "#222", "strokeWidth": 0.5, "clip": true},
 "encoding": {
  "x": {"field": "density", "type": "quantitative", "scale": {"domain": [-0.15608, 0.10847], "nice": false, "zero": false}, "axis": null},
  "x2": {"datum": 0},
  "y": {"field": "value", "type": "quantitative", "scale": {"domain": [36.9, 103.05], "nice": false, "zero": false}}}},
{"data": {"name": "pts"}, "transform": [{"filter": "datum.panel === '60' && datum.cond === 'F'"}, {"density": "acc", "bandwidth": 4.0, "steps": 100, "as": ["value", "density"]}],
 "mark": {"type": "area", "orient": "horizontal", "color": "#3b3b3b", "stroke": "#222", "strokeWidth": 0.5, "clip": true},
 "encoding": {
  "x": {"field": "density", "type": "quantitative", "scale": {"domain": [-0.23862, 0.02593], "nice": false, "zero": false}, "axis": null},
  "x2": {"datum": 0},
  "y": {"field": "value", "type": "quantitative", "scale": {"domain": [36.9, 103.05], "nice": false, "zero": false}}}}
],
"resolve": {"scale": {"x": "independent"}}
}
],
"config": {
 "view": {"stroke": null},
 "font": "DejaVu Sans",
 "axis": {"grid": false, "labelFont": "DejaVu Sans", "labelFontWeight": "bold", "labelFontSize": 17.5, "labelColor": "#000", "titleFont": "DejaVu Sans", "titleFontWeight": "bold", "titleFontSize": 18.3, "titleColor": "#000", "domainColor": "#000", "domainWidth": 1, "tickColor": "#000", "tickWidth": 1, "tickSize": 5},
 "axisX": {"labelPadding": 7, "titlePadding": 4, "labelAngle": 0},
 "axisY": {"labelPadding": 3, "titlePadding": 4},
 "title": {"font": "DejaVu Sans", "fontSize": 18.3, "fontWeight": "bold", "color": "#000", "offset": 5, "anchor": "middle"}
}
}
